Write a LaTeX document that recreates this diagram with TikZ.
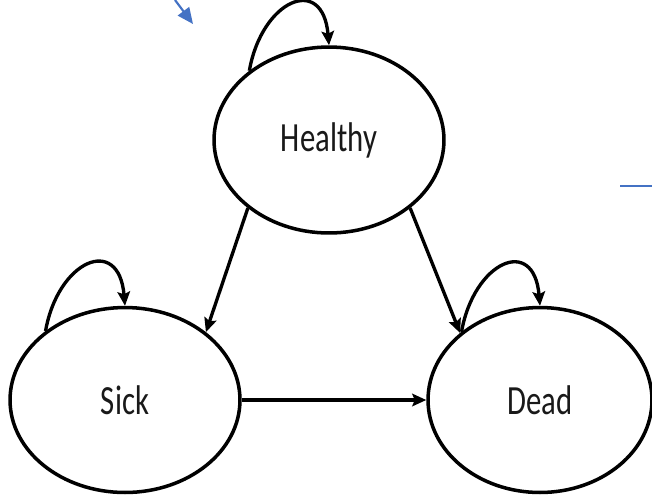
\documentclass[tikz,border=0pt]{standalone}
\usepackage{fontspec}
\usepackage{graphicx}
\setmainfont{Carlito}
\usetikzlibrary{shapes.geometric,arrows.meta}
\definecolor{markblue}{HTML}{4472C4}
\newcommand{\tallword}[1]{\scalebox{1}[1.35]{#1}}
\begin{document}
\begin{tikzpicture}[x=0.02cm, y=-0.02cm]
        \useasboundingbox (0,0) rectangle (652,495);

        \begin{scope}[every node/.style={ellipse, line width=2pt, draw, inner sep=0pt,
            font=\fontsize{17.5}{21}\selectfont, text=black!90}]
        \node[minimum width=4.6cm, minimum height=3.72cm] (H) at (329,140) {\tallword{Healthy}};
        \node[minimum width=4.6cm, minimum height=3.7cm] (S) at (125,400) {\tallword{Sick}};
        \node[minimum width=4.48cm, minimum height=3.7cm] (D) at (540,400) {\tallword{Dead}};
        \end{scope}

        \begin{scope}[line width=1.9pt, >={Stealth[length=2.8mm, width=2.5mm, inset=0.5mm]}]
        \path [->] (H.220) edge (S.40);
        \path [->] (H.320) edge (D.140);
        \path [->] (S) edge (D);
        \path [->] (H.139) edge[out=80, in=95, looseness=2.2] (H.north);
        \path [->] (S.139) edge[out=80, in=95, looseness=2.2] (S.north);
        \path [->] (D.139) edge[out=80, in=95, looseness=2.2] (D.north);
        \end{scope}

        % stray blue marks
        \coordinate (tailA) at (175,0);
        \coordinate (headA) at (193,24);
        \coordinate (markL) at (620,186);
        \coordinate (markR) at (652,186);
        \begin{scope}[markblue]
        \path [-{Triangle[length=3.2mm, width=2.8mm]}, line width=1.2pt] (tailA) edge (headA);
        \path [line width=1.6pt] (markL) edge (markR);
        \end{scope}
    \end{tikzpicture}
\end{document}
